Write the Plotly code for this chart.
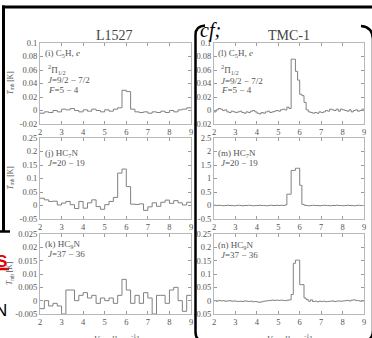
import plotly.graph_objects as go
import numpy as np

W, H = 372, 338

# ---------------- data ----------------
v_start = 2.0
v_end = 9.0
step_l1527 = 0.2
step_tmc1 = 0.1

# L1527 spectra (0.2 km/s channels, 2.0-9.0 km/s)
t_i_c5h_l1527 = [-0.004, -0.002, -0.003, 0.000, -0.002, 0.002, 0.001, 0.003, 0.000, -0.002,
                 0.001, -0.001, 0.002, 0.000, -0.002, 0.001, -0.001, 0.002, 0.004, 0.030,
                 0.028, 0.002, -0.002, -0.003, -0.002, -0.004, -0.002, -0.003, -0.001, -0.003,
                 0.000, -0.002, 0.001, 0.002, 0.004]
t_j_hc7n_l1527 = [0.027, 0.021, 0.015, 0.016, 0.002, 0.009, 0.015, 0.003, -0.011, 0.015,
                  -0.010, 0.010, 0.021, -0.004, -0.014, 0.003, 0.015, 0.030, 0.120, 0.135,
                  0.070, 0.005, 0.004, 0.006, -0.018, -0.005, 0.010, -0.003, 0.012, 0.020,
                  0.008, 0.018, 0.010, 0.002, 0.012]
t_k_hc9n_l1527 = [-0.003, 0.000, -0.002, -0.001, -0.002, -0.005, 0.004, 0.004, 0.000, 0.002,
                  0.003, 0.001, 0.002, -0.001, 0.001, 0.000, 0.001, -0.001, 0.002, 0.008,
                  0.004, -0.001, 0.002, -0.001, 0.003, 0.001, -0.005, 0.002, 0.002, -0.001,
                  0.004, 0.005, 0.000, -0.004, 0.002]

# TMC-1 spectra (0.1 km/s channels, 2.0-9.0 km/s)
t_l_c5h_tmc1 = [-0.002, 0.001, 0.003, 0.002, 0.000, 0.001, -0.002, -0.003, -0.001, -0.002,
                -0.003, -0.002, -0.001, -0.003, -0.004, -0.002, -0.003, -0.001, 0.000, -0.002,
                -0.004, -0.005, -0.003, -0.004, -0.002, -0.001, -0.003, -0.002, -0.001, 0.000,
                -0.001, 0.001, 0.002, 0.001, 0.005, 0.003, 0.076, 0.076, 0.058, 0.045,
                0.024, 0.022, 0.012, 0.001, -0.002, -0.003, -0.004, -0.003, -0.004, -0.002,
                -0.003, -0.002, 0.000, -0.001, 0.002, 0.001, 0.000, 0.002, -0.001, 0.002,
                0.001, 0.000, -0.001, 0.001, -0.002, 0.000, 0.001, -0.001, 0.000, 0.002]
t_m_hc7n_tmc1 = [0.01, 0.00, 0.01, 0.00, -0.01, 0.00, 0.01, 0.00, 0.00, -0.01,
                 0.00, 0.01, 0.00, -0.01, 0.00, 0.00, 0.01, 0.00, -0.01, 0.00,
                 0.00, 0.01, 0.00, 0.00, -0.01, 0.00, 0.01, 0.00, 0.00, 0.01,
                 0.00, 0.01, 0.00, 0.02, 0.42, 0.42, 1.30, 1.30, 1.38, 1.38,
                 0.75, 0.04, 0.01, 0.00, -0.01, 0.00, 0.01, 0.00, 0.00, -0.01,
                 0.00, 0.01, 0.00, 0.00, -0.01, 0.00, 0.00, 0.01, 0.00, 0.00,
                 -0.01, 0.00, 0.01, 0.00, 0.00, -0.01, 0.00, 0.01, 0.00, 0.00]
t_n_hc9n_tmc1 = [0.000, -0.002, 0.001, -0.001, 0.000, -0.002, -0.001, 0.000, -0.002, -0.001,
                 -0.002, -0.003, -0.002, -0.003, -0.001, -0.002, -0.003, -0.002, -0.004, -0.003,
                 -0.005, -0.006, -0.004, -0.002, -0.001, 0.000, 0.001, 0.002, 0.001, 0.002,
                 0.001, 0.002, 0.001, 0.000, 0.002, 0.003, 0.023, 0.140, 0.152, 0.152,
                 0.060, 0.060, 0.010, 0.004, -0.002, 0.003, -0.003, -0.002, -0.004, -0.002,
                 -0.003, -0.002, -0.004, -0.003, -0.002, -0.001, -0.003, -0.002, -0.001, -0.002,
                 -0.001, 0.000, 0.001, -0.001, 0.002, 0.003, 0.001, 0.000, -0.002, -0.001]

x_ticks = [2, 3, 4, 5, 6, 7, 8, 9]
y_ticks_c5h = [-0.02, 0, 0.02, 0.04, 0.06, 0.08, 0.1]
y_text_c5h = ["-0.02", "0", "0.02", "0.04", "0.06", "0.08", "0.1"]
y_ticks_hc7n_l = [-0.05, 0, 0.05, 0.1, 0.15, 0.2, 0.25]
y_text_hc7n_l = ["-0.05", "0", "0.05", "0.1", "0.15", "0.2", "0.25"]
y_ticks_hc9n_l = [-0.005, 0, 0.005, 0.01, 0.015, 0.02, 0.025]
y_text_hc9n_l = ["-0.005", "0", "0.005", "0.01", "0.015", "0.02", "0.025"]
y_ticks_hc7n_t = [-0.5, 0, 0.5, 1, 1.5, 2, 2.5]
y_text_hc7n_t = ["-0.5", "0", "0.5", "1", "1.5", "2", "2.5"]
y_ticks_hc9n_t = [-0.05, 0, 0.05, 0.1, 0.15, 0.2, 0.25]
y_text_hc9n_t = ["-0.05", "0", "0.05", "0.1", "0.15", "0.2", "0.25"]

labels_i = ["(i) C<sub>5</sub>H, <i>e</i>", "<sup>2</sup>Π<sub>1/2</sub>", "<i>J</i>=9/2 − 7/2", "<i>F</i>=5 − 4"]
labels_j = ["(j) HC<sub>7</sub>N", "<i>J</i>=20 − 19"]
labels_k = ["(k) HC<sub>9</sub>N", "<i>J</i>=37 − 36"]
labels_l = ["(l) C<sub>5</sub>H, <i>e</i>", "<sup>2</sup>Π<sub>1/2</sub>", "<i>J</i>=9/2 − 7/2", "<i>F</i>=5 − 4"]
labels_m = ["(m) HC<sub>7</sub>N", "<i>J</i>=20 − 19"]
labels_n = ["(n) HC<sub>9</sub>N", "<i>J</i>=37 − 36"]

# ---------------- helpers ----------------
def X(px):
    return px / W

def Y(py):
    return 1 - py / H

def edges(step, n):
    return list(np.round(v_start + step * np.arange(n + 1), 3))

SERIF = "Liberation Serif"
LINE_C = "#808080"
AX_C = "#b8b8b8"
TXT_C = "#555555"

panels = [
    (t_i_c5h_l1527, step_l1527, (40, 191), (43, 124), (-0.02, 0.1), y_ticks_c5h, y_text_c5h, labels_i, [53, 69, 80, 90], 43),
    (t_j_hc7n_l1527, step_l1527, (40, 191), (138, 219), (-0.05, 0.25), y_ticks_hc7n_l, y_text_hc7n_l, labels_j, [153, 163], 43),
    (t_k_hc9n_l1527, step_l1527, (40, 191), (234, 314), (-0.005, 0.025), y_ticks_hc9n_l, y_text_hc9n_l, labels_k, [244, 254], 43),
    (t_l_c5h_tmc1, step_tmc1, (214, 364), (43, 124), (-0.02, 0.1), y_ticks_c5h, y_text_c5h, labels_l, [53, 70, 81, 90], 216),
    (t_m_hc7n_tmc1, step_tmc1, (214, 364), (138, 219), (-0.5, 2.5), y_ticks_hc7n_t, y_text_hc7n_t, labels_m, [153, 163], 216),
    (t_n_hc9n_tmc1, step_tmc1, (214, 364), (234, 314), (-0.05, 0.25), y_ticks_hc9n_t, y_text_hc9n_t, labels_n, [245, 255], 216),
]

fig = go.Figure()
layout = dict(
    width=W, height=H, margin=dict(l=0, r=0, t=0, b=0),
    paper_bgcolor="white", plot_bgcolor="white", showlegend=False,
    font=dict(family=SERIF, color=TXT_C),
)
annotations = []
shapes = []

axis_common = dict(showline=True, linecolor=AX_C, linewidth=1, mirror="ticks",
                   ticks="inside", ticklen=3, tickcolor="#9a9a9a", tickwidth=1,
                   showgrid=False, zeroline=False, automargin=False,
                   tickfont=dict(family=SERIF, size=8.5, color=TXT_C))

for k, (vals, step, xr, yr, yrange, yt, ytt, labs, laby, labx) in enumerate(panels, start=1):
    xs = edges(step, len(vals))
    ys = list(vals) + [vals[-1]]
    xa = "x" if k == 1 else f"x{k}"
    ya = "y" if k == 1 else f"y{k}"
    fig.add_trace(go.Scatter(x=xs, y=ys, mode="lines", line=dict(color=LINE_C, width=1, shape="hv"),
                             xaxis=xa, yaxis=ya, hoverinfo="skip"))
    xkey = "xaxis" if k == 1 else f"xaxis{k}"
    ykey = "yaxis" if k == 1 else f"yaxis{k}"
    layout[xkey] = dict(axis_common, domain=[X(xr[0]), X(xr[1])], range=[v_start, v_end],
                        tickvals=x_ticks, anchor=ya)
    layout[ykey] = dict(axis_common, domain=[Y(yr[1]), Y(yr[0])], range=list(yrange),
                        tickvals=yt, ticktext=ytt, anchor=xa)
    for j, (txt, ly) in enumerate(zip(labs, laby)):
        annotations.append(dict(text=txt, x=X(labx + (0 if j == 0 else 3)), y=Y(ly), xref="paper", yref="paper",
                                xanchor="left", yanchor="middle", showarrow=False,
                                font=dict(family=SERIF, size=9, color=TXT_C)))
    if xr[0] == 40:
        annotations.append(dict(text="<i>T</i><sub>mb</sub> [K]", x=X(10), y=Y((yr[0] + yr[1]) / 2),
                                xref="paper", yref="paper", textangle=-90, showarrow=False,
                                xanchor="center", yanchor="middle",
                                font=dict(family=SERIF, size=7.5, color=TXT_C)))

# column titles
annotations.append(dict(text="L1527", x=X(114), y=Y(36), xref="paper", yref="paper", showarrow=False,
                        xanchor="center", yanchor="middle", font=dict(family=SERIF, size=14, color="#444")))
annotations.append(dict(text="TMC-1", x=X(289), y=Y(36), xref="paper", yref="paper", showarrow=False,
                        xanchor="center", yanchor="middle", font=dict(family=SERIF, size=14, color="#444")))
annotations.append(dict(text="<i>cf;</i>", x=X(198), y=Y(30), xref="paper", yref="paper", showarrow=False,
                        xanchor="left", yanchor="middle", font=dict(family=SERIF, size=20, color="black")))
# x-axis titles (cut by the bottom edge as in the reference)
for cx in (116, 289):
    annotations.append(dict(text="<i>V</i><sub>LSR</sub> [km s<sup>-1</sup>]", x=X(cx), y=Y(331),
                            xref="paper", yref="paper", showarrow=False, xanchor="center", yanchor="top",
                            font=dict(family=SERIF, size=8.5, color=TXT_C)))
# cut-off letters at the left edge
annotations.append(dict(text="<b>S</b>", x=X(9), y=Y(261), xref="paper", yref="paper", showarrow=False,
                        xanchor="right", yanchor="middle", font=dict(family="Liberation Sans", size=17, color="#e00000")))
annotations.append(dict(text="N", x=X(9), y=Y(310), xref="paper", yref="paper", showarrow=False,
                        xanchor="right", yanchor="middle", font=dict(family="Liberation Sans", size=17, color="black")))

def pline(x0, y0, x1, y1, w, c="black"):
    return dict(type="line", xref="paper", yref="paper", x0=X(x0), y0=Y(y0), x1=X(x1), y1=Y(y1),
                line=dict(color=c, width=w), layer="above")

shapes.append(pline(2, 7, 380, 7, 3))
shapes.append(pline(3.5, 5.5, 3.5, 232, 3))
shapes.append(pline(-2, 231.5, 10, 231.5, 2.5))
shapes.append(pline(-2, 269, 9, 269, 2.5, "#e00000"))

def path(pts):
    s = ""
    for cmd, xy in pts:
        s += cmd + " " + " ".join(f"{X(a):.5f},{Y(b):.5f}" for a, b in xy) + " "
    return s.strip()

shapes.append(dict(type="path", xref="paper", yref="paper", layer="above",
                   path=path([("M", [(205, 25.5)]), ("Q", [(195.5, 26), (195.5, 35)]),
                              ("L", [(195.5, 332)]), ("Q", [(195.5, 341), (204, 341)])]),
                   line=dict(color="black", width=2.5)))
shapes.append(dict(type="path", xref="paper", yref="paper", layer="above",
                   path=path([("M", [(361, 26)]), ("Q", [(372.5, 27), (373, 39)]),
                              ("L", [(373, 330)]), ("Q", [(373, 339), (366, 341)])]),
                   line=dict(color="black", width=2.5)))

layout["annotations"] = annotations
layout["shapes"] = shapes
fig.update_layout(**layout)

post_js = ("document.documentElement.style.margin='0';document.documentElement.style.padding='0';"
           "document.body.style.margin='0';document.body.style.padding='0';"
           "document.body.style.overflow='hidden';document.documentElement.style.overflow='hidden';")
fig.write_html("out.html", config={"displayModeBar": False}, post_script=post_js)
